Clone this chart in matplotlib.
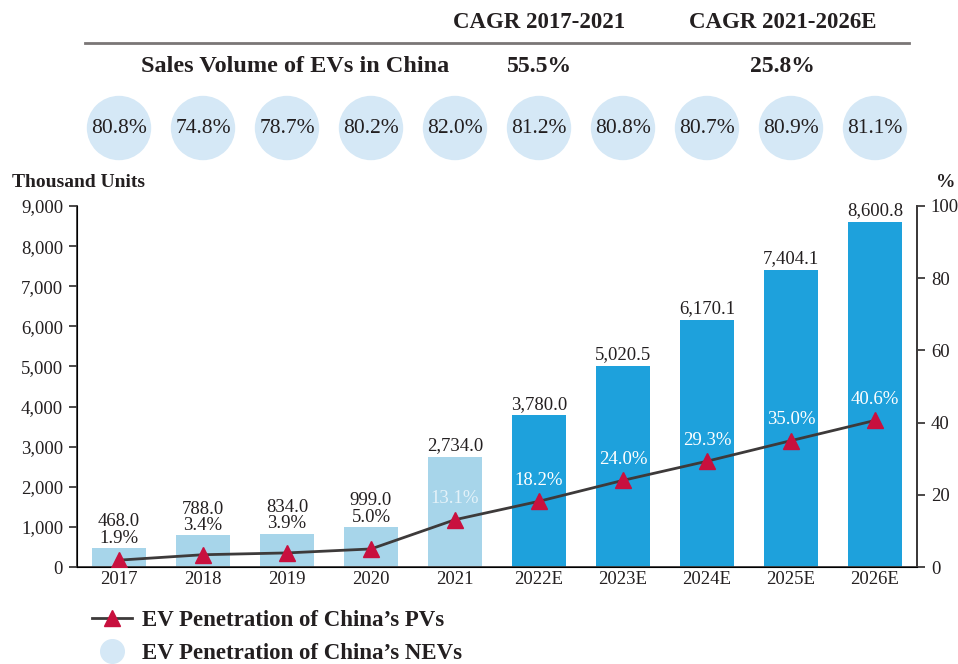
import numpy as np
import matplotlib
matplotlib.use("Agg")
import matplotlib.pyplot as plt
from matplotlib.lines import Line2D

plt.rcParams["font.family"] = ["Liberation Serif", "DejaVu Serif"]

# data
years = ["2017", "2018", "2019", "2020", "2021", "2022E", "2023E", "2024E", "2025E", "2026E"]
sales = [468.0, 788.0, 834.0, 999.0, 2734.0, 3780.0, 5020.5, 6170.1, 7404.1, 8600.8]
pv_pen = [1.9, 3.4, 3.9, 5.0, 13.1, 18.2, 24.0, 29.3, 35.0, 40.6]
nev_pen = [80.8, 74.8, 78.7, 80.2, 82.0, 81.2, 80.8, 80.7, 80.9, 81.1]
cagr_titles = ["CAGR 2017-2021", "CAGR 2021-2026E"]
cagr_values = ["55.5%", "25.8%"]
n_actual = 5

light_blue = "#A7D5EA"
dark_blue = "#1EA1DC"
circle_col = "#D5E8F6"
red = "#C8103E"
line_col = "#3d3a3a"
text_col = "#231f20"

fig = plt.figure(figsize=(9.58, 6.64), dpi=100)
ax = fig.add_axes([77 / 958, 1 - 567 / 664, 840 / 958, 361 / 664])
x = np.arange(len(years))
colors = [light_blue if i < n_actual else dark_blue for i in range(len(years))]
ax.bar(x, sales, width=0.65, color=colors, zorder=2)
ax.set_xlim(-0.5, 9.5)
ax.set_ylim(0, 9000)
ax.set_yticks(range(0, 9001, 1000))
ax.set_yticklabels([f"{v:,}" for v in range(0, 9001, 1000)])
ax.set_xticks(x)
ax.set_xticklabels(years)
for s in ["left", "right", "bottom"]:
    ax.spines[s].set_color(line_col)
    ax.spines[s].set_linewidth(1.3)
ax.spines["top"].set_visible(False)
ax.tick_params(axis="y", length=6, width=1.3, color=line_col, labelsize=13.5, labelcolor=text_col, pad=4)
ax.tick_params(axis="x", length=0, labelsize=13.5, labelcolor=text_col, pad=3)

ax2 = ax.twinx()
ax2.set_ylim(0, 100)
ax2.set_yticks(range(0, 101, 20))
ax2.spines["top"].set_visible(False)
ax2.spines["right"].set_color(line_col)
ax2.spines["right"].set_linewidth(1.3)
ax2.tick_params(axis="y", length=6, width=1.3, color=line_col, labelsize=13.5, labelcolor=text_col, pad=4)
ax2.plot(x, pv_pen, color=line_col, lw=2, marker="^", markersize=12,
         markerfacecolor=red, markeredgecolor=red, zorder=3)

for i in range(len(years)):
    if i < 4:
        ax.annotate(f"{sales[i]:,.1f}\n{pv_pen[i]:.1f}%", (x[i], sales[i]),
                    xytext=(0, 1), textcoords="offset points", ha="center", va="bottom",
                    fontsize=13.5, color=text_col, linespacing=0.95)
    else:
        ax.annotate(f"{sales[i]:,.1f}", (x[i], sales[i]), xytext=(0, 2),
                    textcoords="offset points", ha="center", va="bottom",
                    fontsize=13.5, color=text_col)
        ax2.annotate(f"{pv_pen[i]:.1f}%", (x[i], pv_pen[i]), xytext=(0, 9),
                     textcoords="offset points", ha="center", va="bottom",
                     fontsize=13.5, color="white" if i > 4 else "#e4f2f9")

fig.text(12 / 958, 1 - 182 / 664, "Thousand Units", fontsize=14, fontweight="bold",
         color=text_col, va="center", ha="left")
fig.text(946 / 958, 1 - 182 / 664, "%", fontsize=14, fontweight="bold",
         color=text_col, va="center", ha="center")

# header
top = fig.add_axes([77 / 958, 1 - 168 / 664, 840 / 958, 168 / 664])
top.set_xlim(-0.5, 9.5)
top.set_ylim(0, 1)
top.axis("off")
top.scatter(x, [0.238] * len(x), s=2150, color=circle_col, edgecolors="none")
for i, v in enumerate(nev_pen):
    top.text(x[i], 0.238, f"{v:.1f}%", ha="center", va="center", fontsize=15.5, color=text_col)
top.plot([-0.41, 9.41], [0.744, 0.744], color="#7a7676", lw=2)
cagr_x = [5.0, 7.9]
for cx, t, v in zip(cagr_x, cagr_titles, cagr_values):
    top.text(cx, 0.869, t, ha="center", va="center", fontsize=16.5, fontweight="bold", color=text_col)
    top.text(cx, 0.607, v, ha="center", va="center", fontsize=17, fontweight="bold", color=text_col)
top.text(2.1, 0.607, "Sales Volume of EVs in China", ha="center", va="center",
         fontsize=17.5, fontweight="bold", color=text_col)

handles = [
    Line2D([], [], color=line_col, lw=2, marker="^", markersize=11,
           markerfacecolor=red, markeredgecolor=red),
    Line2D([], [], lw=0, marker="o", markersize=17, markerfacecolor=circle_col,
           markeredgecolor=circle_col),
]
fig.legend(handles, ["EV Penetration of China\u2019s PVs", "EV Penetration of China\u2019s NEVs"],
           loc="upper left", bbox_to_anchor=(92 / 958, 1 - 610 / 664), frameon=False,
           prop={"size": 16.5, "weight": "bold"}, labelcolor=text_col,
           handlelength=1.75, handletextpad=0.45, labelspacing=0.5, borderpad=0,
           borderaxespad=0)

fig.savefig("out.png", dpi=100)
